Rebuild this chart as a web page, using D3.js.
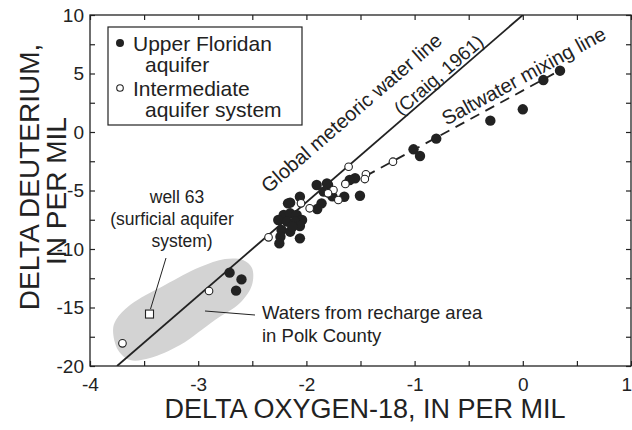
<!DOCTYPE html>
<html>
<head>
<meta charset="utf-8">
<script src="https://cdn.jsdelivr.net/npm/d3@7"></script>
<style>
  body { margin: 0; background: #fff; }
  svg { display: block; font-family: "Liberation Sans", Arial, sans-serif; }
</style>
</head>
<body>
<svg id="chart" width="632" height="430"></svg>
<script>
// Isotope samples: [delta oxygen-18, delta deuterium], per mil
const upperFloridan = [
  [-1.905, -4.53], [-1.80, -4.53], [-1.81, -4.39], [-1.55, -3.95], [-1.60, -4.10],
  [-2.06, -5.53], [-2.15, -6.04], [-1.76, -5.50], [-1.65, -5.53], [-1.505, -5.45],
  [-1.86, -6.10], [-1.90, -6.58], [-1.84, -5.10],
  [-2.21, -7.09], [-2.15, -6.95], [-2.09, -7.09], [-2.04, -7.52], [-2.26, -7.52],
  [-2.18, -7.66], [-2.105, -7.66], [-2.06, -8.03], [-2.23, -8.38], [-2.15, -8.52],
  [-2.24, -8.95], [-2.25, -9.52], [-2.06, -9.09], [-2.17, -6.10], [-2.13, -8.10],
  [-2.71, -12.02], [-2.60, -12.60], [-2.65, -13.56],
  [-1.01, -1.48], [-0.95, -2.05], [-0.80, -0.57], [-0.30, 0.97], [0.00, 1.94],
  [0.19, 4.44], [0.344, 5.24]
];
const intermediate = [
  [-3.70, -18.06], [-2.90, -13.59], [-2.35, -9.0], [-1.61, -2.97],
  [-1.45, -3.62], [-1.46, -4.02], [-1.64, -4.44], [-1.75, -4.96], [-1.80, -5.24],
  [-1.705, -5.81], [-1.97, -6.52], [-2.05, -6.10], [-1.20, -2.54]
];
const well63 = [[-3.45, -15.56]];

// Recharge-area outline (Polk County waters)
const rechargeArea = [
  [-3.787, -16.92], [-3.741, -18.63], [-3.630, -19.49], [-3.445, -19.32],
  [-3.168, -18.21], [-2.845, -16.07], [-2.614, -14.62], [-2.503, -13.08],
  [-2.503, -11.62], [-2.586, -10.94], [-2.752, -10.85], [-2.983, -11.54],
  [-3.307, -13.08], [-3.630, -14.79], [-3.760, -16.07]
];

// Global meteoric water line (Craig, 1961): dD = 8 d18O + 10
const gmwl = [[-3.75, -20], [0, 10]];
const saltwaterLine = [[-1.45, -3.75], [0.35, 5.30]];

const xTicks = [-4, -3, -2, -1, 0, 1];
const yTicks = [-20, -15, -10, -5, 0, 5, 10];
const xMinorTicks = d3.range(-4, 1.01, 0.5);
const yMinorTicks = d3.range(-20, 10.01, 2.5);

const svg = d3.select("#chart");
const x = d3.scaleLinear().domain([-4, 1]).range([90, 631]);
const y = d3.scaleLinear().domain([-20, 10]).range([366, 15]);
const ink = "#222";
const fmt = d => String(d);

// shaded recharge area
svg.append("path")
  .datum(rechargeArea)
  .attr("d", d3.line().x(d => x(d[0])).y(d => y(d[1])).curve(d3.curveCatmullRomClosed))
  .attr("fill", "#d3d3d3");

// axes with inward ticks on all four sides
const tick = 5;
const bottomAxis = svg.append("g").attr("transform", `translate(0,${y(-20)})`)
  .call(d3.axisBottom(x).tickValues(xMinorTicks).tickSizeInner(-tick).tickSizeOuter(0)
    .tickPadding(12).tickFormat(d => xTicks.includes(d) ? fmt(d) : ""));
// keep the last label inside the page edge
bottomAxis.selectAll(".tick text").filter(d => d === 1)
  .attr("text-anchor", "end").attr("dx", 0.5);
svg.append("g").attr("transform", `translate(0,${y(10)})`)
  .call(d3.axisTop(x).tickValues(xMinorTicks).tickSizeInner(-tick).tickSizeOuter(0).tickFormat(""));
svg.append("g").attr("transform", `translate(${x(-4)},0)`)
  .call(d3.axisLeft(y).tickValues(yMinorTicks).tickSizeInner(-tick).tickSizeOuter(0)
    .tickPadding(6).tickFormat(d => yTicks.includes(d) ? fmt(d) : ""));
svg.append("g").attr("transform", `translate(${x(1)},0)`)
  .call(d3.axisRight(y).tickValues(yMinorTicks).tickSizeInner(-tick).tickSizeOuter(0).tickFormat(""));

svg.selectAll(".domain").remove();
svg.selectAll(".tick line").attr("stroke", ink).attr("stroke-width", 1.2);
svg.selectAll(".tick text").attr("fill", ink).attr("font-size", 19)
  .attr("font-family", "Liberation Sans, Arial, sans-serif");

svg.append("rect")
  .attr("x", x(-4)).attr("y", y(10))
  .attr("width", x(1) - x(-4)).attr("height", y(-20) - y(10))
  .attr("fill", "none").attr("stroke", ink).attr("stroke-width", 1.3);

// reference lines
svg.append("clipPath").attr("id", "plot")
  .append("rect").attr("x", x(-4)).attr("y", y(10))
  .attr("width", x(1) - x(-4)).attr("height", y(-20) - y(10));
const line = d3.line().x(d => x(d[0])).y(d => y(d[1]));
svg.append("path").datum(gmwl).attr("d", line)
  .attr("stroke", ink).attr("stroke-width", 1.8).attr("fill", "none")
  .attr("clip-path", "url(#plot)");
svg.append("path").datum(saltwaterLine).attr("d", line)
  .attr("stroke", ink).attr("stroke-width", 1.8).attr("fill", "none")
  .attr("stroke-dasharray", "10,7");

// samples
svg.append("g").selectAll("circle").data(upperFloridan).join("circle")
  .attr("cx", d => x(d[0])).attr("cy", d => y(d[1])).attr("r", 5.2)
  .attr("fill", ink);
svg.append("g").selectAll("circle").data(intermediate).join("circle")
  .attr("cx", d => x(d[0])).attr("cy", d => y(d[1])).attr("r", 3.8)
  .attr("fill", "#fff").attr("stroke", ink).attr("stroke-width", 1.1);
svg.append("g").selectAll("rect").data(well63).join("rect")
  .attr("x", d => x(d[0]) - 4).attr("y", d => y(d[1]) - 4)
  .attr("width", 8).attr("height", 8)
  .attr("fill", "#fff").attr("stroke", ink).attr("stroke-width", 1.1);

// annotations
const ann = svg.append("g").attr("fill", ink);
function angleOf(seg) {
  const dx = x(seg[1][0]) - x(seg[0][0]);
  const dy = y(seg[1][1]) - y(seg[0][1]);
  return Math.atan2(dy, dx) * 180 / Math.PI;
}
const gAngle = angleOf(gmwl);
ann.append("text").attr("text-anchor", "middle").attr("font-size", 20)
  .attr("transform", `translate(356,118) rotate(${gAngle})`)
  .text("Global meteoric water line");
ann.append("text").attr("text-anchor", "middle").attr("font-size", 19)
  .attr("transform", `translate(443,80) rotate(${gAngle})`)
  .text("(Craig, 1961)");
ann.append("text").attr("text-anchor", "middle").attr("font-size", 20)
  .attr("transform", `translate(527,82) rotate(${angleOf(saltwaterLine)})`)
  .text("Saltwater mixing line");

const wellText = ann.append("g").attr("font-size", 17.5).attr("text-anchor", "middle");
wellText.append("text").attr("x", 177).attr("y", 203).text("well 63");
wellText.append("text").attr("x", 172).attr("y", 225).text("(surficial aquifer");
wellText.append("text").attr("x", 182).attr("y", 247).text("system)");
svg.append("line").attr("x1", 166).attr("y1", 258).attr("x2", x(well63[0][0]) + 1).attr("y2", y(well63[0][1]) - 5)
  .attr("stroke", ink).attr("stroke-width", 1);

ann.append("text").attr("font-size", 18.5).attr("x", 262).attr("y", 319).text("Waters from recharge area");
ann.append("text").attr("font-size", 18.5).attr("x", 262).attr("y", 342).text("in Polk County");
svg.append("line").attr("x1", 205).attr("y1", 311).attr("x2", 255).attr("y2", 315)
  .attr("stroke", ink).attr("stroke-width", 1);

// legend
const lg = svg.append("g").attr("fill", ink).attr("font-size", 21);
lg.append("rect").attr("x", 108).attr("y", 27).attr("width", 194).attr("height", 98)
  .attr("fill", "#fff").attr("stroke", ink).attr("stroke-width", 1.2);
lg.append("circle").attr("cx", 120).attr("cy", 43).attr("r", 4).attr("fill", ink);
lg.append("text").attr("x", 133).attr("y", 51).text("Upper Floridan");
lg.append("text").attr("x", 145).attr("y", 72).text("aquifer");
lg.append("circle").attr("cx", 120).attr("cy", 88).attr("r", 3.3)
  .attr("fill", "#fff").attr("stroke", ink).attr("stroke-width", 1.1);
lg.append("text").attr("x", 133).attr("y", 96).text("Intermediate");
lg.append("text").attr("x", 145).attr("y", 117).text("aquifer system");

// axis titles
svg.append("text").attr("x", 365).attr("y", 418).attr("text-anchor", "middle")
  .attr("font-size", 27).attr("fill", ink).text("DELTA OXYGEN-18, IN PER MIL");
svg.append("text").attr("text-anchor", "middle").attr("font-size", 28).attr("fill", ink)
  .attr("transform", "translate(39,177) rotate(-90)").text("DELTA DEUTERIUM,");
svg.append("text").attr("text-anchor", "middle").attr("font-size", 28).attr("fill", ink)
  .attr("transform", "translate(66,191) rotate(-90)").text("IN PER MIL");
</script>
</body>
</html>
